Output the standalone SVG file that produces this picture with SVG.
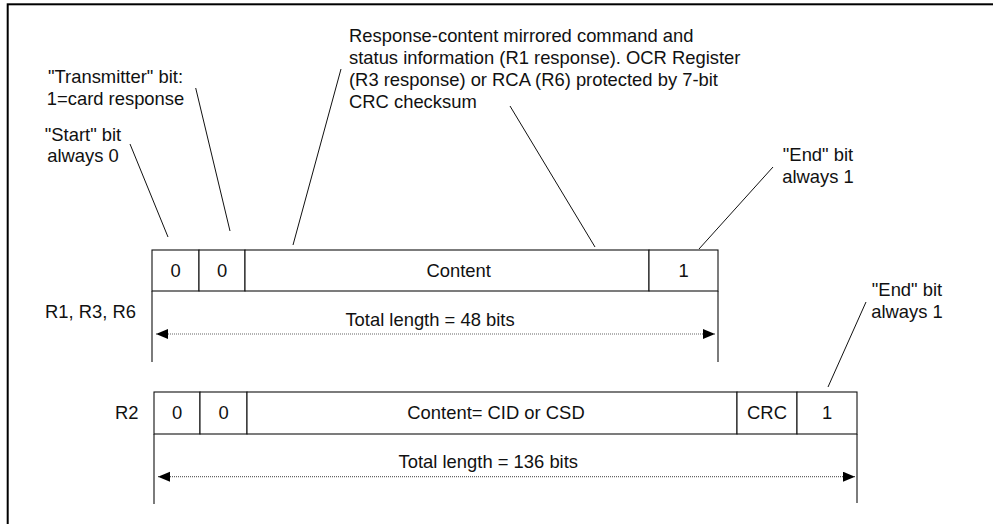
<svg xmlns="http://www.w3.org/2000/svg" width="993" height="524" viewBox="0 0 993 524">
  <style>
    text { font-family: "Liberation Sans", Arial, sans-serif; font-size: 18.4px; fill: #111; }
    .c { text-anchor: middle; }
    .cell { fill: #fff; stroke: #111; stroke-width: 1.1; }
    .ext { stroke: #111; stroke-width: 1.1; fill: none; }
    .lead { stroke: #111; stroke-width: 1; fill: none; }
    .dim { stroke: #666; stroke-width: 1.2; stroke-dasharray: 1 1; fill: none; marker-start: url(#arrow); marker-end: url(#arrow); }
  </style>
  <defs>
    <marker id="arrow" markerUnits="userSpaceOnUse" markerWidth="13" markerHeight="11" refX="12" refY="5" orient="auto-start-reverse">
      <path d="M0,0 L12,5 L0,10 Z" fill="#000"/>
    </marker>
  </defs>

  <rect width="993" height="524" fill="#fff"/>
  <!-- outer frame (runs off the right and bottom edges) -->
  <rect x="7.7" y="4.3" width="1000" height="540" fill="none" stroke="#000" stroke-width="2"/>

  <!-- callout labels -->
  <g id="label-start">
    <text x="83" y="141" class="c">"Start" bit</text>
    <text x="83" y="162" class="c">always 0</text>
  </g>
  <g id="label-transmitter">
    <text x="115.5" y="83" class="c">"Transmitter" bit:</text>
    <text x="115.5" y="105" class="c">1=card response</text>
  </g>
  <g id="label-content">
    <text x="349" y="42">Response-content mirrored command and</text>
    <text x="349" y="64">status information (R1 response). OCR Register</text>
    <text x="349" y="86">(R3 response) or RCA (R6) protected by 7-bit</text>
    <text x="349" y="108">CRC checksum</text>
  </g>
  <g id="label-end-r1">
    <text x="818" y="161" class="c">"End" bit</text>
    <text x="818" y="183" class="c">always 1</text>
  </g>
  <g id="label-end-r2">
    <text x="907" y="296" class="c">"End" bit</text>
    <text x="907" y="318" class="c">always 1</text>
  </g>

  <!-- R1, R3, R6 frame: 48 bits -->
  <g id="frame-r1">
    <text x="45" y="318">R1, R3, R6</text>
    <rect class="cell" x="152" y="250" width="47" height="41"/>
    <rect class="cell" x="199" y="250" width="46" height="41"/>
    <rect class="cell" x="245" y="250" width="404" height="41"/>
    <rect class="cell" x="649" y="250" width="69" height="41"/>
    <text x="175.5" y="277" class="c">0</text>
    <text x="222" y="277" class="c">0</text>
    <text x="458.7" y="277" class="c">Content</text>
    <text x="683.5" y="277" class="c">1</text>
    <path class="ext" d="M152,291 V362 M718,291 V362"/>
    <text x="430" y="326" class="c">Total length = 48 bits</text>
  </g>

  <!-- R2 frame: 136 bits -->
  <g id="frame-r2">
    <text x="115" y="419">R2</text>
    <rect class="cell" x="154" y="392" width="46" height="42"/>
    <rect class="cell" x="200" y="392" width="47" height="42"/>
    <rect class="cell" x="247" y="392" width="490" height="42"/>
    <rect class="cell" x="737" y="392" width="60" height="42"/>
    <rect class="cell" x="797" y="392" width="60" height="42"/>
    <text x="177" y="419" class="c">0</text>
    <text x="223.5" y="419" class="c">0</text>
    <text x="496" y="419" class="c">Content= CID or CSD</text>
    <text x="767" y="419" class="c">CRC</text>
    <text x="827" y="419" class="c">1</text>
    <path class="ext" d="M154,434 V504 M857,434 V503"/>
    <text x="488.3" y="468" class="c">Total length = 136 bits</text>
  </g>

  <!-- leader lines and length arrows -->
  <g id="connectors">
    <line class="lead" x1="130" y1="144" x2="168" y2="237"/>
    <line class="lead" x1="195.7" y1="88" x2="230" y2="231"/>
    <line class="lead" x1="341" y1="69" x2="293" y2="245"/>
    <line class="lead" x1="510" y1="106" x2="595" y2="247"/>
    <line class="lead" x1="773" y1="167" x2="699" y2="249"/>
    <line class="lead" x1="866" y1="302" x2="828" y2="387"/>
    <line class="dim" x1="156" y1="334" x2="715" y2="334"/>
    <line class="dim" x1="158" y1="476.7" x2="855" y2="476.7"/>
  </g>
</svg>
